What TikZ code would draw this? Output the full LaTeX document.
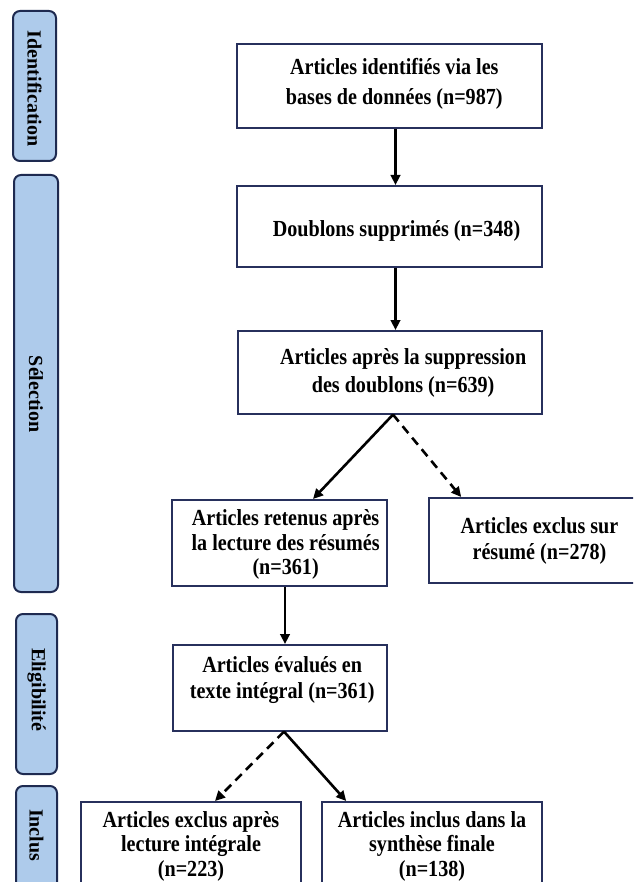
\documentclass[tikz,border=0pt]{standalone}
\usepackage{fontspec}
\usepackage{graphicx}
\setmainfont{Liberation Serif}
\usetikzlibrary{arrows.meta,calc}
\definecolor{barfill}{HTML}{AECBEB}
\definecolor{barline}{HTML}{1E2A50}
\definecolor{boxline}{HTML}{27305C}
\newcommand\bx[3][0pt]{\fontsize{23}{#2}\selectfont\scalebox{0.875}[1]{\begin{tabular}[t]{@{\hspace{#1}}c@{}}#3\end{tabular}}}
\begin{document}
\begin{tikzpicture}[x=1pt,y=-1pt,
  stage/.style={draw=boxline, line width=1.6pt, fill=white, anchor=north, inner sep=0pt, font=\bfseries},
  phase/.style={draw=barline, fill=barfill, line width=2pt, rounded corners=7pt, rotate=-90, anchor=west, inner xsep=0pt, inner ysep=0pt, align=left, font=\bfseries\fontsize{20}{24}\selectfont},
  flow/.style={line width=2.6pt, -{Triangle[length=10pt,width=9.5pt]}},
  skip/.style={flow, dash pattern=on 9pt off 6pt}]
\useasboundingbox (0,0) rectangle (633,882);
\clip (0,0) rectangle (633,882);
\fill[white] (0,0) rectangle (633,882);

% phase bars
\node[phase, minimum height=43pt, text width=150pt] (p1) at (34.5,10) {\hspace*{20pt}Identification};
\node[phase, minimum height=44pt, text width=417pt] (p2) at (36,174) {\hspace*{181pt}Sélection};
\node[phase, minimum height=41pt, text width=160pt] (p3) at (36.5,613) {\hspace*{34pt}Eligibilité};
\node[phase, minimum height=41pt, text width=150pt] (p4) at (36.5,785) {\hspace*{23pt}Inclus};

% stage boxes
\node[stage, minimum width=305pt, text height=31pt, text depth=53pt] (b1) at (389.5,43)
  {\bx[11pt]{30pt}{Articles identifiés via les\\bases de données (n=987)}};
\node[stage, minimum width=305pt, text height=51pt, text depth=30pt] (b2) at (389.5,185)
  {\bx[16pt]{24pt}{Doublons supprimés (n=348)}};
\node[stage, minimum width=304pt, text height=34pt, text depth=49pt] (b3) at (390,330)
  {\bx[30pt]{27.5pt}{Articles après la suppression\\des doublons (n=639)}};
\node[stage, minimum width=215pt, text height=26pt, text depth=60pt] (b4) at (279.5,499)
  {\bx[14pt]{24.5pt}{Articles retenus après\\la lecture des résumés\\(n=361)}};
\node[stage, minimum width=221pt, text height=36pt, text depth=49pt] (b5) at (539.5,497)
  {\bx{26pt}{Articles exclus sur\\résumé (n=278)}};
\node[stage, minimum width=214pt, text height=28pt, text depth=58pt] (b6) at (280,644)
  {\bx[5pt]{25.7pt}{Articles évalués en\\texte intégral (n=361)}};
\node[stage, minimum width=220pt, text height=25.5pt, text depth=84pt] (b7) at (191,801)
  {\bx{24.5pt}{Articles exclus après\\lecture intégrale\\(n=223)}};
\node[stage, minimum width=220pt, text height=25.5pt, text depth=84pt] (b8) at (432,801)
  {\bx{24.5pt}{Articles inclus dans la\\synthèse finale\\(n=138)}};

% connectors
\draw[flow] ($(b1.south)+(6,0)$) -- ($(b2.north)+(6,0)$);
\draw[flow] ($(b2.south)+(6,0)$) -- ($(b3.north)+(5.5,0)$);
\draw[flow] ($(b3.south)+(3,0)$) -- ($(b4.north)+(33.5,0)$);
\draw[skip] ($(b3.south)+(3,0)$) -- ($(b5.north west)+(33,0)$);
\draw[flow] ($(b4.south)+(5.5,0)$) -- ($(b6.north)+(5,0)$);
\draw[skip] ($(b6.south)+(4,0)$) -- ($(b7.north)+(24,0)$);
\draw[flow] ($(b6.south)+(4,0)$) -- ($(b8.north west)+(25,0)$);
\end{tikzpicture}
\end{document}
